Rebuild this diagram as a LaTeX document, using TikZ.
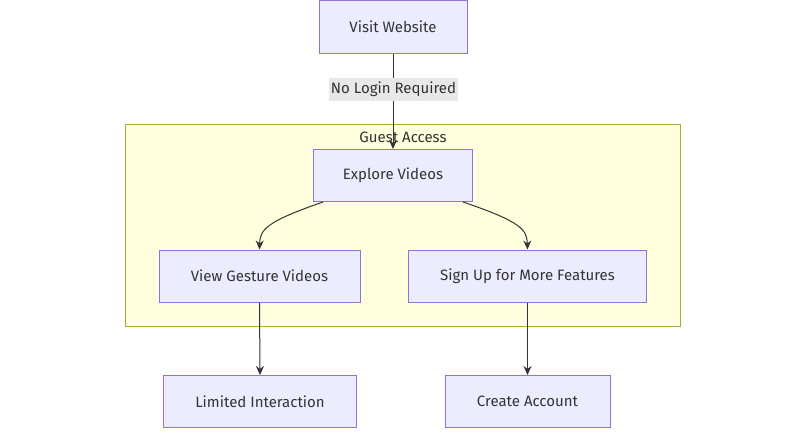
\documentclass[tikz,border=0pt]{standalone}
\usepackage{fontspec}
\setmainfont{Fira Sans}
\usetikzlibrary{arrows.meta}
\definecolor{nodefill}{HTML}{ECECFF}
\definecolor{nodedraw}{HTML}{9370DB}
\definecolor{grpfill}{HTML}{FFFFDE}
\definecolor{grpdraw}{HTML}{AAAA33}
\definecolor{txt}{HTML}{333333}
\definecolor{lblbg}{HTML}{E8E8E8}
\tikzset{
  box/.style={draw=nodedraw, fill=nodefill, line width=1pt, inner sep=0pt, text=txt, font=\fontsize{15}{18}\selectfont},
  conn/.style={draw=txt, line width=1pt, -{Stealth[length=9pt,width=8pt]}},
  lbl/.style={fill=lblbg, text=txt, inner sep=2pt, font=\fontsize{15}{18}\selectfont},
}
\begin{document}
\begin{tikzpicture}[x=1pt,y=-1pt]
\useasboundingbox (0,0) rectangle (800,442);
\fill[white] (0,0) rectangle (800,442);
% group
\draw[draw=grpdraw, fill=grpfill, line width=1pt] (125,124.5) rectangle (680,326);
\node[text=txt, font=\fontsize{15}{18}\selectfont] (gtitle) at (403,137) {Guest Access};
% nodes
\node[box, minimum width=148pt, minimum height=53pt] (visit) at (393,26.5) {Visit Website};
\node[box, minimum width=159pt, minimum height=52pt] (explore) at (393,175.5) {Explore Videos};
\node[box, minimum width=201pt, minimum height=52pt] (view) at (259.5,276) {View Gesture Videos};
\node[box, minimum width=238pt, minimum height=52pt] (signup) at (527.5,276) {Sign Up for More Features};
\node[box, minimum width=193pt, minimum height=52pt] (limited) at (260,401.5) {Limited Interaction};
\node[box, minimum width=165pt, minimum height=52pt] (create) at (527.5,401.5) {Create Account};
% edges
\draw[conn] (visit.south) -- (explore.north);
\node[lbl, minimum width=125pt, minimum height=23pt] (nolog) at (393.5,89) {No Login Required};
\draw[conn] ([xshift=-70pt]explore.south) .. controls (265,222) and (260,230) .. (view.north);
\draw[conn] ([xshift=70pt]explore.south) .. controls (522,222) and (527,230) .. (signup.north);
\draw[conn] (view.south) -- (limited.north);
\draw[conn] (signup.south) -- (create.north);
\end{tikzpicture}
\end{document}
